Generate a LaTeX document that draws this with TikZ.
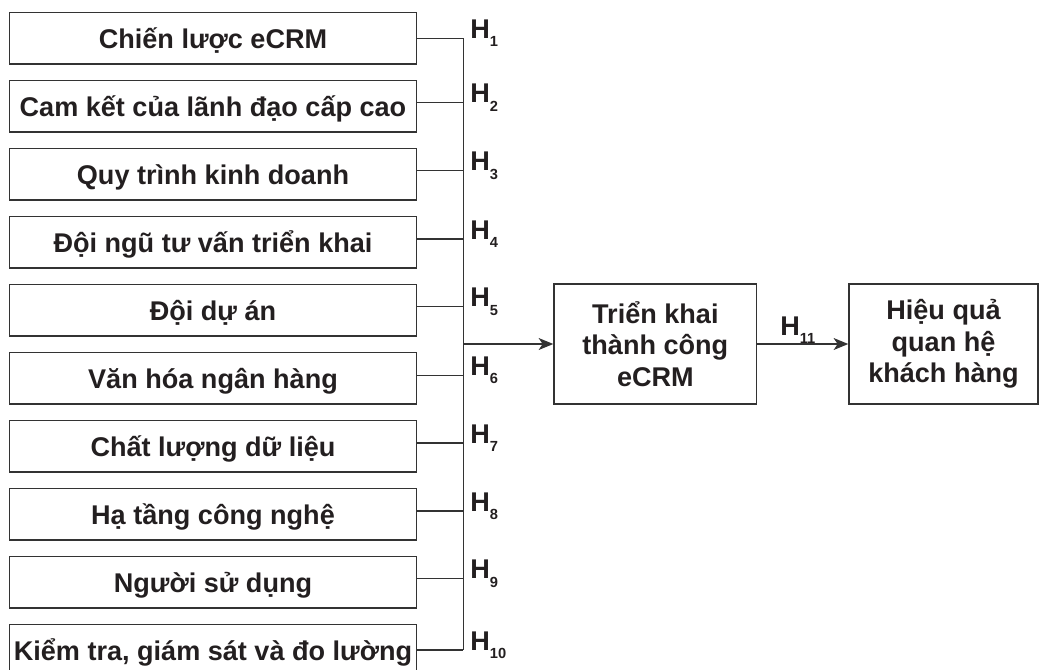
\documentclass[tikz,border=0pt]{standalone}
\usepackage{fontspec}
\setmainfont{Liberation Sans}
\usetikzlibrary{arrows.meta}
\definecolor{linec}{HTML}{333333}
\definecolor{textc}{HTML}{231F20}
\newcommand{\hsub}[1]{H\raisebox{-6.5pt}{\fontsize{11}{11}\selectfont #1}}
\begin{document}
\begin{tikzpicture}[x=0.75pt,y=-0.75pt,
  boxfont/.style={font=\bfseries\fontsize{20.3}{23.5}\selectfont, text=textc},
  lbox/.style={boxfont, draw=linec, line width=1.1pt, minimum width=305.55pt,
    minimum height=38.5pt, inner sep=0pt, text height=14.5pt, text depth=0pt},
  bbox/.style={boxfont, draw=linec, line width=1.1pt, minimum height=90pt,
    inner sep=0pt, align=center},
  conn/.style={draw=linec, line width=0.9pt},
  arr/.style={conn, -{Stealth[length=11pt,width=9pt,inset=3pt]}},
  hlab/.style={boxfont, anchor=base west, inner sep=0pt, xshift=4.8pt}]
\useasboundingbox (0,0) rectangle (1041,669);
\clip (0,0) rectangle (1041,669);
% left boxes
\node[lbox] (b1)  at (213, 38.35)  {Chiến lược eCRM};
\node[lbox] (b2)  at (213, 106.35) {Cam kết của lãnh đạo cấp cao};
\node[lbox] (b3)  at (213, 174.35) {Quy trình kinh doanh};
\node[lbox] (b4)  at (213, 242.35) {Đội ngũ tư vấn triển khai};
\node[lbox] (b5)  at (213, 310.35) {Đội dự án};
\node[lbox] (b6)  at (213, 378.35) {Văn hóa ngân hàng};
\node[lbox] (b7)  at (213, 446.35) {Chất lượng dữ liệu};
\node[lbox] (b8)  at (213, 514.35) {Hạ tầng công nghệ};
\node[lbox] (b9)  at (213, 582.35) {Người sử dụng};
\node[lbox] (b10) at (213, 650.35) {Kiểm tra, giám sát và đo lường};
% right boxes
\node[bbox, minimum width=152pt] (m) at (655.35, 344) {Triển khai\\thành công\\eCRM};
\node[bbox, minimum width=141.75pt] (r) at (943.5, 344) {Hiệu quả\\quan hệ\\khách hàng};
% bus coordinates
\coordinate (c1)  at (463.3, 38.3);
\coordinate (c2)  at (463.3, 102.7);
\coordinate (c3)  at (463.3, 170.7);
\coordinate (c4)  at (463.3, 239);
\coordinate (c5)  at (463.3, 306.7);
\coordinate (c6)  at (463.3, 375.3);
\coordinate (c7)  at (463.3, 443);
\coordinate (c8)  at (463.3, 511);
\coordinate (c9)  at (463.3, 578.7);
\coordinate (c10) at (463.3, 650);
\coordinate (j)   at (463.3, 344);
% connectors
\draw[conn] (b1.east |- c1) -- (c1) node[hlab] {\hsub{1}};
\draw[conn] (b2.east |- c2) -- (c2) node[hlab] {\hsub{2}};
\draw[conn] (b3.east |- c3) -- (c3) node[hlab] {\hsub{3}};
\draw[conn] (b4.east |- c4) -- (c4) node[hlab] {\hsub{4}};
\draw[conn] (b5.east |- c5) -- (c5) node[hlab] {\hsub{5}};
\draw[conn] (b6.east |- c6) -- (c6) node[hlab] {\hsub{6}};
\draw[conn] (b7.east |- c7) -- (c7) node[hlab] {\hsub{7}};
\draw[conn] (b8.east |- c8) -- (c8) node[hlab] {\hsub{8}};
\draw[conn] (b9.east |- c9) -- (c9) node[hlab] {\hsub{9}};
\draw[conn] (b10.east |- c10) -- (c10) node[hlab] {\hsub{10}};
\draw[conn] (c1) -- (c10);
\draw[arr] (j) -- (m.west);
\draw[arr] (m.east) -- node[pos=0.5, boxfont, anchor=base west, inner sep=0pt, xshift=-17.4pt, yshift=6.75pt] {\hsub{11}} (r.west);
\end{tikzpicture}
\end{document}
